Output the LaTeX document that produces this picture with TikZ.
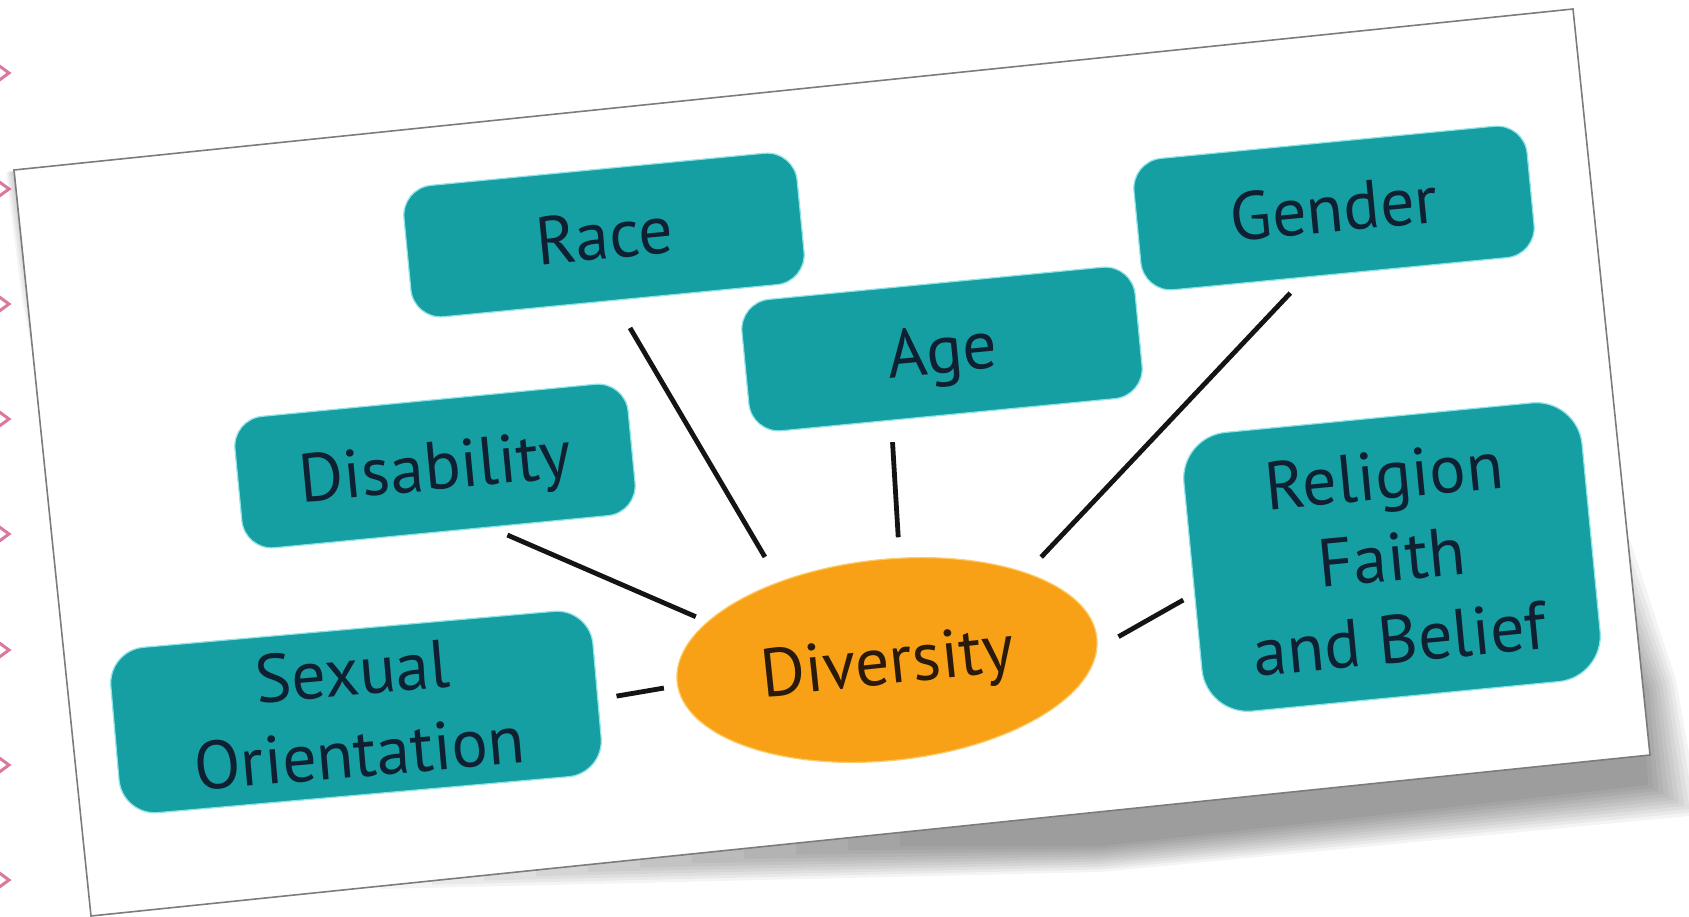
\documentclass[tikz,border=0pt]{standalone}
\usepackage{fontspec}
\newfontfamily\labelfont{PT Sans}
\usetikzlibrary{shapes.geometric,calc}
\definecolor{tealbox}{HTML}{169FA2}
\definecolor{tealedge}{HTML}{8FE3E6}
\definecolor{orangefill}{HTML}{F8A116}
\definecolor{orangeedge}{HTML}{FCCB6A}
\definecolor{inkblue}{HTML}{0E2031}
\definecolor{inkbrown}{HTML}{2A1A0C}
\definecolor{chevron}{HTML}{D9799F}
\definecolor{cardedge}{HTML}{7C7C7C}
\begin{document}
\begin{tikzpicture}[x=1pt,y=1pt,
  topic/.style={rectangle, rounded corners=30pt, fill=tealbox, draw=tealedge,
    line width=1.2pt, text=inkblue, inner sep=0pt, outer sep=0pt,
    font=\labelfont\fontsize{68}{82}\selectfont, align=center, rotate=5.5,
    minimum width=395pt, minimum height=132pt},
  oneline/.style={text height=48pt, text depth=0pt},
  hub/.style={ellipse, fill=orangefill, draw=orangeedge, line width=1.2pt,
    minimum width=422pt, minimum height=201pt, inner sep=0pt, outer sep=0pt,
    rotate=6, text=inkbrown, font=\labelfont\fontsize{68}{82}\selectfont,
    text height=48pt, text depth=0pt},
  link/.style={draw=black!92, line width=4.8pt},
  chev/.style={draw=chevron, line width=3pt},
  cardline/.style={fill=white, draw=cardedge, line width=1.6pt}]

\useasboundingbox (0,0) rectangle (1689,-917);
\clip (0,0) rectangle (1689,-917);

% bullet chevrons along the left margin
\foreach \yy in {73,189,304,419,534,650,765,880}
  \draw[chev] (-6,-\yy+11) -- (9,-\yy) -- (-6,-\yy-11);

% soft drop shadow under the card, tapering off to the left
\coordinate (o1) at (380,-889);  \coordinate (i1) at (900,-846);
\coordinate (o2) at (1100,-872); \coordinate (i2) at (1100,-846);
\coordinate (o3) at (1700,-815); \coordinate (i3) at (1648,-785);
\coordinate (o4) at (1676,-680); \coordinate (i4) at (1642,-690);
\coordinate (o5) at (1630,-540); \coordinate (i5) at (1600,-600);
\coordinate (o6) at (380,-860);  \coordinate (i6) at (900,-820);
\foreach \k in {0,0.1,0.2,0.3,0.4,0.5,0.6,0.7,0.8,0.9,1}
  \fill[black, opacity=0.045]
    ($(o1)!\k!(i1)$) -- ($(o2)!\k!(i2)$) -- ($(o3)!\k!(i3)$) --
    ($(o4)!\k!(i4)$) -- ($(o5)!\k!(i5)$) -- ($(o6)!\k!(i6)$) -- cycle;
% faint shade along the upper left edge
\foreach \k in {0,0.25,0.5,0.75,1}
  \fill[black, opacity=0.04]
    ($(6,-172)!\k!(12,-172)$) -- (30,-168) -- (48,-430) -- ($(22,-300)!\k!(30,-300)$) -- cycle;

% the tilted card
\coordinate (cTL) at (14,-170);
\coordinate (cTR) at (1573,-9);
\coordinate (cBR) at (1650,-755);
\coordinate (cBL) at (91,-916);
\path[cardline] (cTL) -- (cTR) -- (cBR) -- (cBL) -- cycle;

% topics
\node[topic, oneline] (race)   at (604,-235)  {Race};
\node[topic, oneline] (age)    at (942,-349)  {Age};
\node[topic, oneline] (gender) at (1334,-208) {Gender};
\node[topic, oneline] (disab)  at (435,-466)  {Disability};
\node[topic, rotate=-0.5, minimum width=484pt, minimum height=166pt,
      rounded corners=36pt] (sexual) at (356,-712) {Sexual\\Orientation};
\node[topic, minimum width=400pt, minimum height=280pt,
      rounded corners=46pt] (relig) at (1392,-557) {Religion\\Faith\\and Belief};

% centre
\node[hub] (hub) at (887,-660) {Diversity};

% spokes
\draw[link, shorten <=32pt, shorten >=29pt] (race.-87)    -- (hub.138);
\draw[link, shorten <=22pt, shorten >=21pt] (age.-131)    -- (hub.77);
\draw[link, shorten <=22pt, shorten >=22pt] (gender.-118) -- (hub.26);
\draw[link, shorten <=20pt, shorten >=13pt] (disab.-54)   -- (hub.162);
\draw[link, shorten <=19pt, shorten >=14pt] (sexual.-2)   -- (hub.181);
\draw[link, shorten <=13pt, shorten >=25pt] (relig.-175)  -- (hub.-3);
\end{tikzpicture}
\end{document}
